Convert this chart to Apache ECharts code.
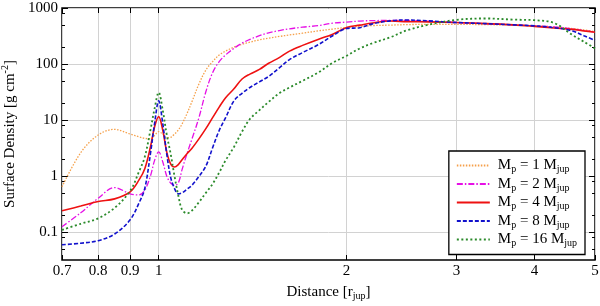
<!DOCTYPE html>
<html><head><meta charset="utf-8">
<script src="https://cdn.jsdelivr.net/npm/echarts@6/dist/echarts.min.js"></script>
<style>html,body{margin:0;padding:0;background:#fff}#c{width:600px;height:306px}</style>
</head><body><div id="c"></div>
<script>
// Distance [r_jup]
const distance = [0.70, 0.75, 0.80, 0.85, 0.90, 0.93, 0.95, 0.97, 0.985, 1.00,
  1.015, 1.03, 1.045, 1.06, 1.075, 1.09, 1.11, 1.13, 1.16, 1.19,
  1.22, 1.25, 1.28, 1.32, 1.36, 1.40, 1.45, 1.50, 1.56, 1.62,
  1.70, 1.80, 1.90, 2.00, 2.10, 2.20, 2.35, 2.50, 2.70, 3.00,
  3.35, 3.70, 4.00, 4.30, 4.60, 4.80, 5.00];
// Surface density [g cm^-2]
const sigma1 = [0.64, 2.6, 5.4, 6.8, 5.6, 5.0, 4.7, 4.6, 5.3, 6.2,
  5.6, 4.8, 4.9, 5.6, 6.6, 8.5, 13, 21, 44, 78,
  110, 145, 170, 200, 225, 245, 270, 290, 310, 330,
  355, 390, 420, 450, 470, 485, 495, 505, 510, 510,
  505, 495, 480, 460, 430, 405, 380];
const sigma2 = [0.124, 0.22, 0.40, 0.62, 0.48, 0.46, 0.56, 1.0, 1.9, 2.7,
  1.8, 1.0, 0.75, 0.68, 0.75, 1.3, 2.5, 4.5, 11, 32,
  70, 110, 145, 190, 235, 275, 320, 360, 395, 425,
  455, 485, 535, 560, 585, 595, 600, 600, 580, 550,
  525, 500, 480, 460, 425, 395, 370];
const sigma4 = [0.24, 0.29, 0.35, 0.39, 0.52, 0.85, 1.35, 3.3, 7.6, 11.5,
  6.6, 2.7, 1.65, 1.45, 1.6, 1.95, 2.5, 3.1, 4.6, 7.0,
  11, 17, 25, 36, 54, 66, 80, 103, 130, 170,
  215, 275, 340, 450, 495, 540, 585, 570, 565, 550,
  525, 500, 470, 440, 415, 390, 370];
const sigma8 = [0.059, 0.063, 0.070, 0.092, 0.165, 0.33, 0.6, 2.5, 8.7, 22,
  8.7, 2.5, 0.95, 0.6, 0.48, 0.5, 0.58, 0.68, 0.98, 1.5,
  3.2, 6.5, 11, 22, 30, 38, 48, 60, 85, 120,
  160, 220, 320, 430, 445, 520, 590, 610, 590, 550,
  525, 500, 480, 445, 390, 320, 265];
const sigma16 = [0.109, 0.14, 0.175, 0.27, 0.54, 1.2, 2.2, 6.6, 16, 31,
  15, 5.5, 2.5, 1.0, 0.45, 0.25, 0.215, 0.24, 0.34, 0.5,
  0.72, 1.15, 1.9, 3.3, 6.2, 10.4, 15, 21, 30, 38,
  50, 70, 105, 140, 190, 235, 300, 400, 500, 615,
  650, 620, 605, 540, 330, 250, 190];
const masses = [1, 2, 4, 8, 16];
const xTicks = [0.7, 0.8, 0.9, 1, 2, 3, 4, 5];
const yMajor = [0.1, 1, 10, 100, 1000];
const yMinor = [0.05, 0.08, 0.2, 0.5, 0.8, 2, 5, 8, 20, 50, 80, 200, 500, 800];

const FF = 'Liberation Serif';
const seriesValues = [sigma1, sigma2, sigma4, sigma8, sigma16];
const styles = [
  {color: '#f5a04a', width: 1.3, type: [1.5, 1.5]},
  {color: '#e610e6', width: 1.3, type: [6, 2, 1.5, 2]},
  {color: '#ee1111', width: 1.6, type: 'solid'},
  {color: '#1111cc', width: 1.6, type: [4, 2]},
  {color: '#2a8a2a', width: 1.8, type: [2, 2.5]}
];
const names = masses.map(m => 'Mp = ' + m + ' Mjup');

const chart = echarts.init(document.getElementById('c'));
const fmtX = v => String(Math.round(v * 10) / 10);
const fmtY = v => v < 1 ? String(Math.round(v * 10) / 10) : String(Math.round(v));
const tickStyle = {color: '#000', width: 1};
const yBase = {type: 'log', logBase: 10, min: 0.0316, max: 1000,
  axisLine: {show: false}, splitLine: {show: false}, axisLabel: {show: false}, minorTick: {show: false}};
const xBase = {type: 'log', logBase: 10, min: 0.7, max: 5,
  axisLine: {show: false}, splitLine: {show: false}, axisLabel: {show: false}, minorTick: {show: false}};

chart.setOption({
  animation: false,
  backgroundColor: '#fff',
  grid: {left: 62, right: 5, top: 8, bottom: 46, show: true, borderColor: '#000', borderWidth: 1.5,
    backgroundColor: 'transparent', containLabel: false, outerBoundsMode: 'none'},
  xAxis: [
    Object.assign({}, xBase, {
      position: 'bottom',
      axisTick: {inside: true, length: 5, customValues: xTicks, lineStyle: tickStyle},
      axisLabel: {show: true, customValues: xTicks, formatter: fmtX, fontFamily: FF, fontSize: 15, color: '#000', margin: 4},
      splitLine: {show: true, lineStyle: {color: '#d2d2d2', width: 1}},
      name: '{a|Distance [r}{s|jup}{a|]}',
      nameLocation: 'middle', nameGap: 23,
      nameTextStyle: {rich: {
        a: {fontFamily: FF, fontSize: 15, color: '#000'},
        s: {fontFamily: FF, fontSize: 10, color: '#000', padding: [8, 0, 0, 0]}
      }}
    }),
    Object.assign({}, xBase, {
      position: 'top',
      axisTick: {inside: true, length: 5, customValues: xTicks, lineStyle: tickStyle}
    })
  ],
  yAxis: [
    Object.assign({}, yBase, {
      position: 'left',
      axisTick: {inside: true, length: 6, customValues: yMajor, lineStyle: tickStyle},
      axisLabel: {show: true, customValues: yMajor, formatter: fmtY, fontFamily: FF, fontSize: 15, color: '#000', margin: 4},
      splitLine: {show: true, lineStyle: {color: '#d2d2d2', width: 1}},
      name: '{a|Surface Density [g cm}{p|-2}{a|]}',
      nameLocation: 'middle', nameGap: 39,
      nameTextStyle: {rich: {
        a: {fontFamily: FF, fontSize: 15, color: '#000'},
        p: {fontFamily: FF, fontSize: 10, color: '#000', padding: [0, 0, 8, 0]}
      }}
    }),
    Object.assign({}, yBase, {position: 'left',
      axisTick: {inside: true, length: 3, customValues: yMinor, lineStyle: tickStyle}}),
    Object.assign({}, yBase, {position: 'right',
      axisTick: {inside: true, length: 6, customValues: yMajor, lineStyle: tickStyle}}),
    Object.assign({}, yBase, {position: 'right',
      axisTick: {inside: true, length: 3, customValues: yMinor, lineStyle: tickStyle}})
  ],
  legend: {
    orient: 'vertical', right: 15, top: 151,
    backgroundColor: '#fff', borderColor: '#000', borderWidth: 1.3,
    padding: [7, 8, 6, 7], itemGap: 2, itemWidth: 33, itemHeight: 14,
    itemStyle: {opacity: 0},
    data: names,
    formatter: name => {
      const m = name.split(' ')[2];
      return '{g|}{a|M}{s|p}{a| = ' + m + ' M}{s|jup}';
    },
    textStyle: {rich: {
      g: {width: 3},
      a: {fontFamily: FF, fontSize: 15, color: '#000'},
      s: {fontFamily: FF, fontSize: 10, color: '#000', padding: [8, 0, 0, 0]}
    }}
  },
  series: seriesValues.map((vals, i) => ({
    type: 'line', name: names[i], xAxisIndex: 0, yAxisIndex: 0,
    data: distance.map((d, k) => [d, vals[k]]),
    showSymbol: false, symbol: 'none', smooth: 0.35,
    lineStyle: styles[i], itemStyle: {color: styles[i].color},
    z: 2 + i
  }))
});
</script></body></html>
